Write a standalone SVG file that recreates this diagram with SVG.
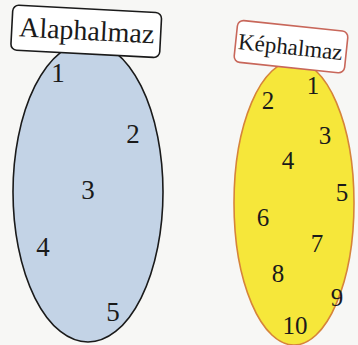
<svg xmlns="http://www.w3.org/2000/svg" width="358" height="345" viewBox="0 0 358 345">
<style>
.num{font-family:"Liberation Serif","Times New Roman",serif;fill:#1a1a1a;text-anchor:middle;dominant-baseline:central}
.l{font-size:27px}
.r{font-size:25px}
.lbl{font-family:"Liberation Serif","Times New Roman",serif;fill:#1a1a1a}
.box{fill:#ffffff;stroke-width:1.6}
</style>
<rect width="358" height="345" fill="#f7f7f5"/>
<g id="domain">
<ellipse cx="88" cy="192" rx="75" ry="150" fill="#c3d3e6" stroke="#1a1a1a" stroke-width="1.6"/>
<text class="num l" x="58" y="73">1</text>
<text class="num l" x="133" y="134">2</text>
<text class="num l" x="88" y="190">3</text>
<text class="num l" x="43" y="247">4</text>
<text class="num l" x="113" y="312">5</text>
</g>
<g id="codomain">
<ellipse cx="294" cy="203" rx="60" ry="142" fill="#f6e73a" stroke="#d6843a" stroke-width="1.6"/>
<text class="num r" x="313" y="85">1</text>
<text class="num r" x="268" y="100">2</text>
<text class="num r" x="325" y="135">3</text>
<text class="num r" x="288" y="160">4</text>
<text class="num r" x="342" y="192">5</text>
<text class="num r" x="263" y="217">6</text>
<text class="num r" x="317" y="243">7</text>
<text class="num r" x="278" y="273">8</text>
<text class="num r" x="337" y="297">9</text>
<text class="num r" x="295" y="325">10</text>
</g>
<g id="label-domain" transform="rotate(3 13 5)">
<rect class="box" x="13" y="5" width="149" height="45" rx="6" stroke="#1a1a1a"/>
<text class="lbl" x="88" y="36" font-size="28" text-anchor="middle">Alaphalmaz</text>
</g>
<g id="label-codomain" transform="rotate(6 238 20)">
<rect class="box" x="238" y="20" width="111" height="42" rx="6" stroke="#c8675a"/>
<text class="lbl" x="293" y="49" font-size="23" text-anchor="middle">Képhalmaz</text>
</g>
</svg>
